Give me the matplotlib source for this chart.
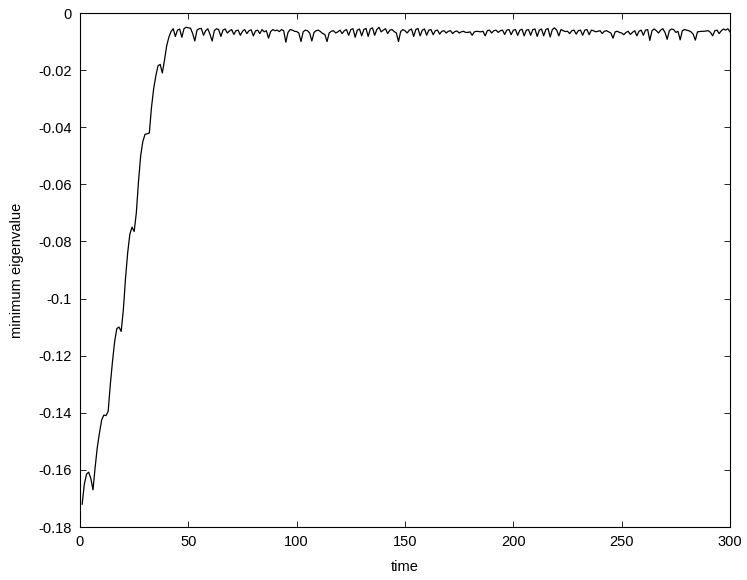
import numpy as np
import matplotlib
matplotlib.use("Agg")
import matplotlib.pyplot as plt

plt.rcParams['font.family'] = ['Liberation Sans', 'DejaVu Sans']

# minimum eigenvalue at integer times 1..300
rise = [
    -0.1720, -0.1650, -0.1615, -0.1608, -0.1630, -0.1670, -0.1590, -0.1520, -0.1470, -0.1425,
    -0.1408, -0.1410, -0.1395, -0.1300, -0.1220, -0.1150, -0.1105, -0.1100, -0.1115, -0.1040,
    -0.0930, -0.0840, -0.0775, -0.0750, -0.0765, -0.0700, -0.0590, -0.0500, -0.0450, -0.0425,
    -0.0423, -0.0420, -0.0330, -0.0265, -0.0220, -0.0185, -0.0180, -0.0210, -0.0165, -0.0115,
]
plateau = [
    -0.0085, -0.0065, -0.0055, -0.0082, -0.0060, -0.0056, -0.0085, -0.0055, -0.0050, -0.0052,
    -0.0053, -0.0072, -0.0098, -0.0060, -0.0055, -0.0054, -0.0078, -0.0062, -0.0055, -0.0075,
    -0.0098, -0.0062, -0.0055, -0.0058, -0.0082, -0.0060, -0.0056, -0.0070, -0.0063, -0.0058,
    -0.0075, -0.0062, -0.0060, -0.0078, -0.0064, -0.0058, -0.0072, -0.0062, -0.0059, -0.0080,
    -0.0063, -0.0060, -0.0072, -0.0058, -0.0066, -0.0062, -0.0088, -0.0065, -0.0058, -0.0062,
    -0.0060, -0.0065, -0.0058, -0.0062, -0.0102, -0.0068, -0.0058, -0.0060, -0.0064, -0.0065,
    -0.0070, -0.0100, -0.0066, -0.0060, -0.0062, -0.0070, -0.0098, -0.0068, -0.0062, -0.0060,
    -0.0065, -0.0072, -0.0075, -0.0100, -0.0070, -0.0064, -0.0062, -0.0070, -0.0066, -0.0060,
    -0.0072, -0.0062, -0.0058, -0.0078, -0.0058, -0.0055, -0.0085, -0.0060, -0.0056, -0.0080,
    -0.0058, -0.0054, -0.0082, -0.0056, -0.0052, -0.0078, -0.0058, -0.0050, -0.0066, -0.0060,
    -0.0055, -0.0072, -0.0060, -0.0058, -0.0065, -0.0070, -0.0100, -0.0065, -0.0058, -0.0062,
    -0.0070, -0.0060, -0.0056, -0.0082, -0.0058, -0.0054, -0.0080, -0.0060, -0.0056, -0.0078,
    -0.0060, -0.0058, -0.0076, -0.0062, -0.0060, -0.0074, -0.0064, -0.0062, -0.0070, -0.0064,
    -0.0062, -0.0072, -0.0065, -0.0063, -0.0070, -0.0066, -0.0064, -0.0068, -0.0068, -0.0066,
    -0.0078, -0.0066, -0.0064, -0.0065, -0.0066, -0.0064, -0.0080, -0.0062, -0.0060, -0.0070,
    -0.0062, -0.0060, -0.0068, -0.0062, -0.0060, -0.0075, -0.0060, -0.0058, -0.0076, -0.0060,
    -0.0058, -0.0078, -0.0060, -0.0057, -0.0080, -0.0060, -0.0058, -0.0078, -0.0058, -0.0056,
    -0.0082, -0.0060, -0.0056, -0.0080, -0.0058, -0.0054, -0.0084, -0.0058, -0.0052, -0.0060,
    -0.0080, -0.0058, -0.0062, -0.0065, -0.0064, -0.0072, -0.0062, -0.0060, -0.0074, -0.0062,
    -0.0060, -0.0078, -0.0060, -0.0058, -0.0076, -0.0060, -0.0062, -0.0066, -0.0064, -0.0062,
    -0.0072, -0.0064, -0.0062, -0.0066, -0.0070, -0.0088, -0.0066, -0.0064, -0.0068, -0.0070,
    -0.0076, -0.0068, -0.0064, -0.0075, -0.0068, -0.0062, -0.0080, -0.0064, -0.0060, -0.0078,
    -0.0060, -0.0058, -0.0096, -0.0062, -0.0056, -0.0062, -0.0070, -0.0060, -0.0055, -0.0068,
    -0.0092, -0.0062, -0.0056, -0.0058, -0.0068, -0.0064, -0.0094, -0.0062, -0.0058, -0.0060,
    -0.0062, -0.0066, -0.0074, -0.0095, -0.0066, -0.0065, -0.0064, -0.0064, -0.0063, -0.0062,
    -0.0068, -0.0080, -0.0062, -0.0060, -0.0072, -0.0062, -0.0056, -0.0060, -0.0055, -0.0066,
]
min_eig = np.array(rise + plateau)
time = np.arange(1, len(min_eig) + 1)

xticks = [0, 50, 100, 150, 200, 250, 300]
yticks = [-0.18, -0.16, -0.14, -0.12, -0.1, -0.08, -0.06, -0.04, -0.02, 0]
ytick_labels = ['-0.18', '-0.16', '-0.14', '-0.12', '-0.1', '-0.08', '-0.06', '-0.04', '-0.02', '0']

fig = plt.figure(figsize=(7.47, 5.80), dpi=100)
ax = fig.add_axes([80 / 747, 53 / 580, 650 / 747, 514 / 580])

ax.plot(time, min_eig, color='black', linewidth=0.9)

ax.set_xlim(0, 300)
ax.set_ylim(-0.18, 0)
ax.set_xticks(xticks)
ax.set_yticks(yticks)
ax.set_yticklabels(ytick_labels)
ax.tick_params(direction='in', length=4.5, width=0.6, top=True, right=True,
               labelsize=10.5, pad=6)
for s in ax.spines.values():
    s.set_linewidth(0.8)

ax.set_xlabel('time', fontsize=10.5, labelpad=8)
ax.set_ylabel('minimum eigenvalue', fontsize=10.5, labelpad=10)

fig.savefig('out.png', dpi=100)
